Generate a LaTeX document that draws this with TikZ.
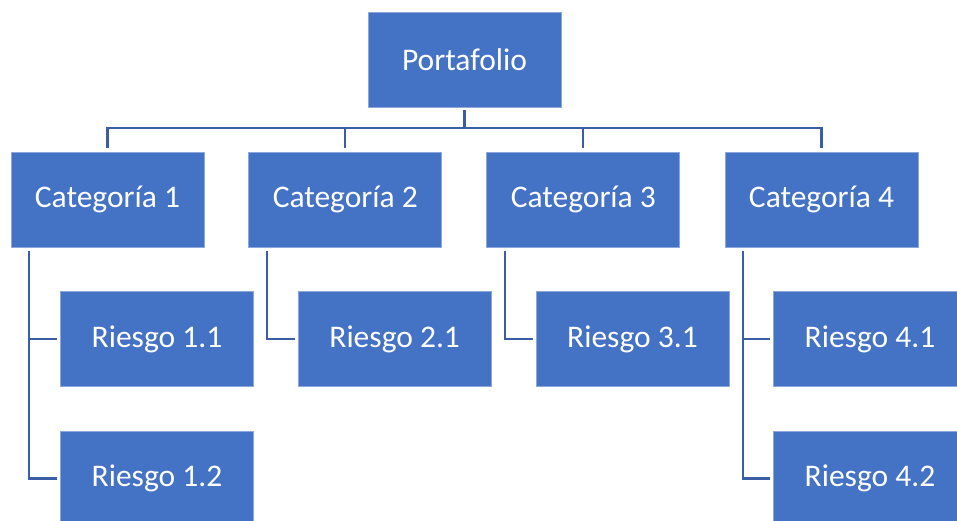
\documentclass[tikz,border=0pt]{standalone}
\usepackage{fontspec}
\setmainfont{Carlito}
\definecolor{boxblue}{RGB}{68,114,196}
\definecolor{edgeblue}{RGB}{140,168,218}
\definecolor{linkblue}{RGB}{58,94,166}
\begin{document}
\begin{tikzpicture}[x=1pt,y=-1pt,
  box/.style={rectangle, fill=boxblue, draw=edgeblue, line width=0.8pt,
    minimum width=193pt, minimum height=95pt, outer sep=3.5pt,
    text=white, font=\fontsize{31.5}{36}\selectfont, inner sep=0pt},
  link/.style={draw=linkblue, line width=2.3pt}]
\clip (0,0) rectangle (957,521);
\useasboundingbox (0,0) rectangle (957,521);
\node[box] (P) at (464.5,59.5) {Portafolio};
\node[box] (c1) at (107.5,199.5) {Categoría 1};
\node[box] (c2) at (345.3,199.5) {Categoría 2};
\node[box] (c3) at (583.3,199.5) {Categoría 3};
\node[box] (c4) at (821.5,199.5) {Categoría 4};
\node[box] (r11) at (157,339) {Riesgo 1.1};
\node[box] (r12) at (157,478.5) {Riesgo 1.2};
\node[box] (r21) at (394.7,339) {Riesgo 2.1};
\node[box] (r31) at (632.5,339) {Riesgo 3.1};
\node[box] (r41) at (870,339) {Riesgo 4.1};
\node[box] (r42) at (870,478.5) {Riesgo 4.2};
\coordinate (hy) at (464.5,128);
\draw[link] (P.south) -- (P.south |- hy);
\draw[link] (c1.north) -- (c1.north |- hy) -| (c4.north);
\draw[link] (c2.north) -- (c2.north |- hy);
\draw[link] (c3.north) -- (c3.north |- hy);
\draw[link] ([xshift=21.5pt]c1.south west) |- (r11.west);
\draw[link] ([xshift=21.5pt]c1.south west) |- (r12.west);
\draw[link] ([xshift=21.5pt]c2.south west) |- (r21.west);
\draw[link] ([xshift=21.5pt]c3.south west) |- (r31.west);
\draw[link] ([xshift=21.5pt]c4.south west) |- (r41.west);
\draw[link] ([xshift=21.5pt]c4.south west) |- (r42.west);
\end{tikzpicture}
\end{document}
